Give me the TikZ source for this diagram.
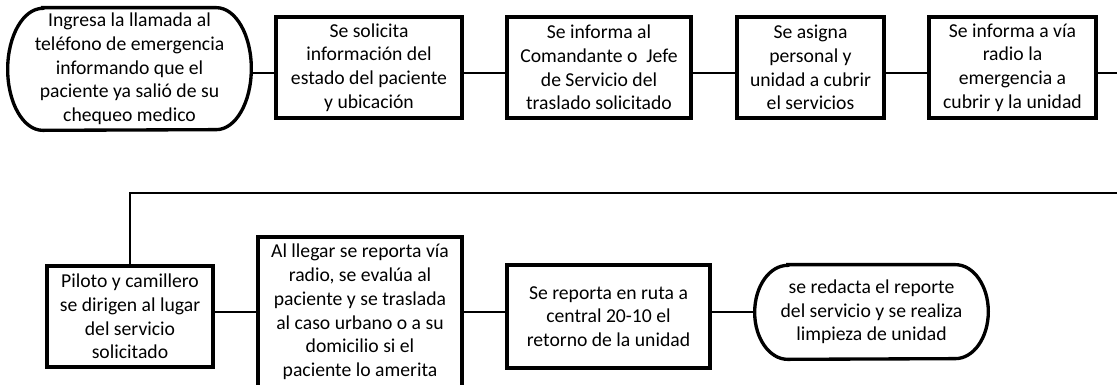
\documentclass[tikz,border=0pt]{standalone}
\usepackage{fontspec}
\setmainfont{Carlito}
\usepackage{tikz}
\usetikzlibrary{calc}

\tikzset{
  box/.style={draw, line width=1.9pt, align=center, inner sep=0pt,
    font=\fontsize{11.2}{13.5}\selectfont},
  term/.style={align=center, inner sep=0pt,
    font=\fontsize{11.2}{13.5}\selectfont},
  outline/.style={line width=1.9pt},
  link/.style={line width=1.1pt}
}

\begin{document}
\begin{tikzpicture}[x=0.02cm,y=-0.02cm]
\path[use as bounding box, clip] (0,0) rectangle (1117,385);

% first row
\node[term, minimum width=4.86cm, minimum height=2.44cm] (n1) at (129.5,69)
  {Ingresa la llamada al\\teléfono de emergencia\\informando que el\\paciente ya salió de su\\chequeo medico};
\draw[outline] ([xshift=0.7cm]n1.north west) -- ([xshift=-0.7cm]n1.north east)
  arc[start angle=90, end angle=-90, x radius=0.7cm, y radius=1.22cm]
  -- ([xshift=0.7cm]n1.south west)
  arc[start angle=270, end angle=90, x radius=0.7cm, y radius=1.22cm] -- cycle;
\node[box, minimum width=3.72cm, minimum height=2.02cm] (n2) at (369,67.5)
  {Se solicita\\información del\\estado del paciente\\y ubicación};
\node[box, minimum width=3.68cm, minimum height=2.02cm] (n3) at (599,67.5)
  {Se informa al\\Comandante o~ Jefe\\de Servicio del\\traslado solicitado};
\node[box, minimum width=2.94cm, minimum height=2.02cm] (n4) at (810.5,67.5)
  {Se asigna\\personal y\\unidad a cubrir\\el servicios};
\node[box, minimum width=3.34cm, minimum height=2.02cm] (n5) at (1012.5,67.5)
  {Se informa a vía\\radio la\\emergencia a\\cubrir y la unidad};

% second row
\node[box, minimum width=3.32cm, minimum height=2.02cm] (n6) at (130,316.5)
  {Piloto y camillero\\se dirigen al lugar\\del servicio\\solicitado};
\node[box, minimum width=4.08cm, minimum height=3.0cm] (n7) at (360,312)
  {Al llegar se reporta vía\\radio, se evalúa al\\paciente y se traslada\\al caso urbano o a su\\domicilio si el\\paciente lo amerita};
\node[box, minimum width=4.06cm, minimum height=2.06cm] (n8) at (608.5,316.5)
  {Se reporta en ruta a\\central 20-10 el\\retorno de la unidad};
\node[term, minimum width=4.66cm, minimum height=1.88cm] (n9) at (871.5,312)
  {se redacta el reporte\\del servicio y se realiza\\limpieza de unidad};
\draw[outline] ([xshift=0.66cm]n9.north west) -- ([xshift=-0.66cm]n9.north east)
  arc[start angle=90, end angle=-90, x radius=0.66cm, y radius=0.94cm]
  -- ([xshift=0.66cm]n9.south west)
  arc[start angle=270, end angle=90, x radius=0.66cm, y radius=0.94cm] -- cycle;

% connectors
\coordinate (row) at (0,73);
\coordinate (bend) at (1135,193);
\draw[link] (n1.east |- row) -- (n2.west |- row);
\draw[link] (n2.east |- row) -- (n3.west |- row);
\draw[link] (n3.east |- row) -- (n4.west |- row);
\draw[link] (n4.east |- row) -- (n5.west |- row);
\draw[link] (n5.east |- row) -| (bend) -| (n6.north);
\draw[link] (n7.west -| n6.east) -- (n7.west);
\draw[link] (n7.east) -- (n7.east -| n8.west);
\draw[link] (n9.west -| n8.east) -- (n9.west);
\end{tikzpicture}
\end{document}
